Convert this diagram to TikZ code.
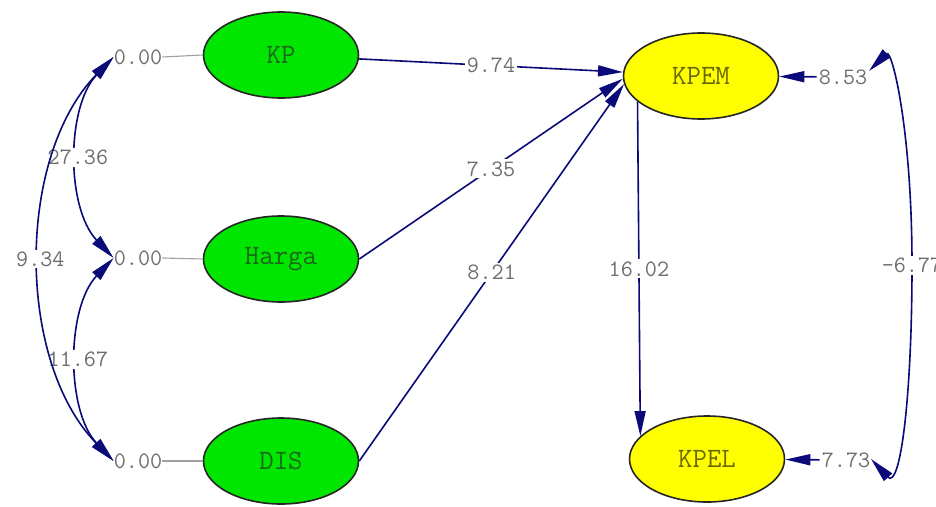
\documentclass[tikz,border=0pt]{standalone}
\usepackage{fontspec}
\usetikzlibrary{shapes.geometric,arrows.meta}
\definecolor{navyc}{RGB}{10,10,120}
\definecolor{lblgray}{RGB}{110,110,110}
\definecolor{grn}{RGB}{0,230,0}
\definecolor{ylw}{RGB}{255,255,0}
\definecolor{grntext}{RGB}{25,105,25}
\definecolor{ylwtext}{RGB}{105,105,0}
\definecolor{stubgray}{RGB}{160,160,160}
\begin{document}
\begin{tikzpicture}[x=1pt,y=-1pt,
  lv/.style={ellipse, draw=black!85, line width=1.6pt, minimum width=155pt, minimum height=86pt, inner sep=0pt, font=\ttfamily\fontsize{28}{28}\selectfont},
  exo/.style={lv, fill=grn, text=grntext},
  endo/.style={lv, fill=ylw, text=ylwtext},
  val/.style={font=\ttfamily\fontsize{23.5}{23.5}\selectfont, text=lblgray, fill=white, inner sep=2pt},
  zval/.style={font=\ttfamily\fontsize{23.5}{23.5}\selectfont, text=lblgray, inner sep=0pt},
  regarrow/.style={draw=navyc, line width=1.6pt, -{Triangle[length=25pt,width=11pt]}},
  cov/.style={draw=navyc, line width=1.6pt, {Triangle[length=25pt,width=11pt]}-{Triangle[length=25pt,width=11pt]}},
  stub/.style={draw=stubgray, line width=1.1pt}]
\useasboundingbox (0,0) rectangle (936,506);
\fill[white] (0,0) rectangle (936,506);

% latent variables
\node[exo] (KP) at (281,55) {KP};
\node[exo] (Harga) at (281,259) {Harga};
\node[exo] (DIS) at (281,461) {DIS};
\node[endo] (KPEM) at (701,76) {KPEM};
\node[endo] (KPEL) at (707,459) {KPEL};

% variances of exogenous
\node[zval] (z1) at (138,57) {0.00};
\node[zval] (z2) at (138,258) {0.00};
\node[zval] (z3) at (138,461) {0.00};
\draw[stub] (z1.east) -- (KP.west);
\draw[stub] (z2.east) -- (Harga.west);
\draw[stub] (z3.east) -- (DIS.west);

% covariances on the left
\draw[cov] (z1.west) .. controls (66,107) and (66,208) .. node[val] {27.36} (z2.west);
\draw[cov] (z2.west) .. controls (66,308) and (66,411) .. node[val] {11.67} (z3.west);
\draw[cov] (z1.west) .. controls (16,157) and (16,361) .. node[val] {9.34} (z3.west);

% structural paths
\draw[regarrow] (KP) -- node[val] {9.74} (KPEM);
\draw[regarrow] (Harga.east) -- node[val] {7.35} (KPEM.182);
\draw[regarrow] (DIS.east) -- node[val] {8.21} (KPEM.186);
\draw[regarrow] (KPEM.202) -- node[val] {16.02} (KPEL.161);

% error terms
\node[val] (e1) at (843,77) {8.53};
\node[val] (e2) at (846,460) {7.73};
\draw[regarrow] (e1) -- (KPEM);
\draw[regarrow] (e2) -- (KPEL);

% error covariance
\coordinate (c1) at (869,71);
\coordinate (c2) at (871,459);
\draw[cov] (c1) .. controls (892,48) and (912,130) .. (912,265) node[val] {-6.77}
  .. controls (912,400) and (900,490) .. (c2);
\end{tikzpicture}
\end{document}
